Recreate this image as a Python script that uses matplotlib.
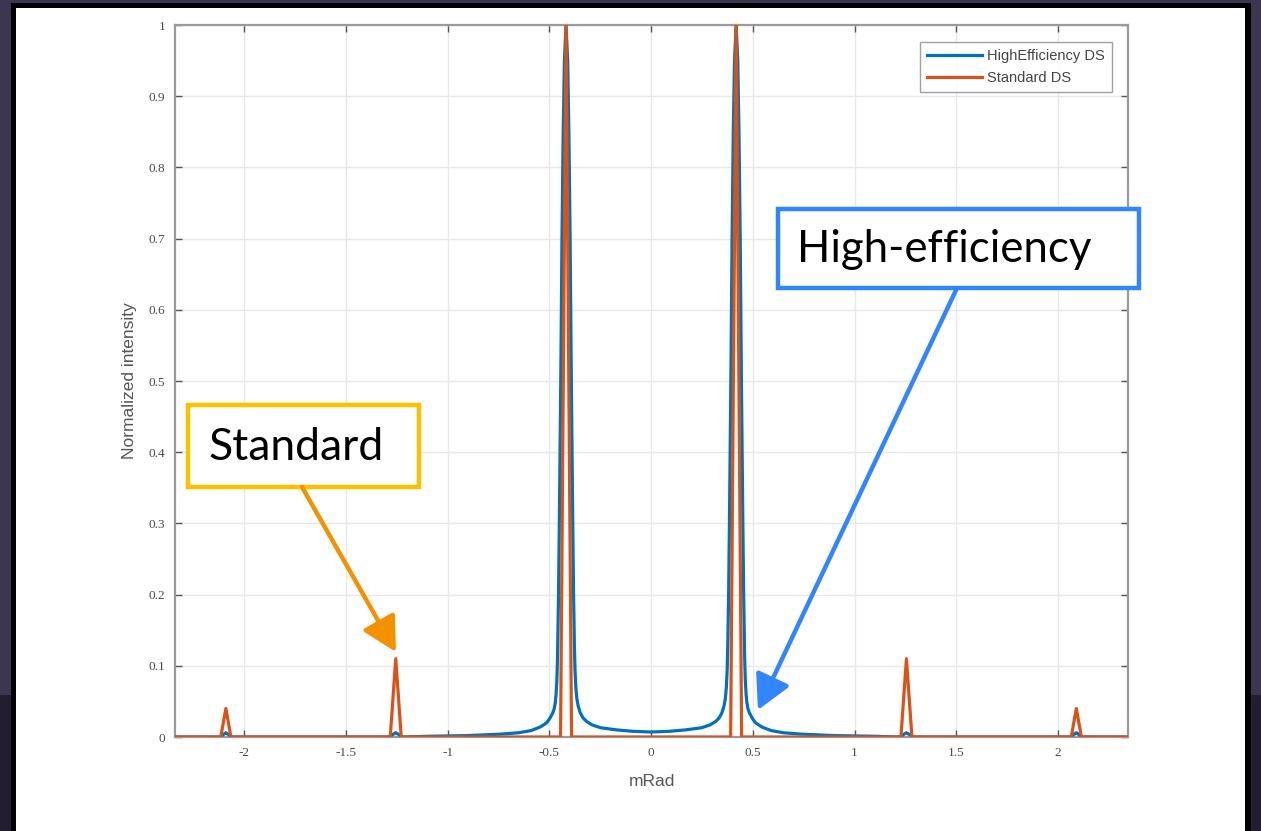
import matplotlib
matplotlib.use("Agg")
import matplotlib.pyplot as plt
from matplotlib.patches import Rectangle, FancyArrowPatch

# ---- data -------------------------------------------------------------
# Standard diffractive structure: narrow diffraction orders
std_x = [-2.34, -2.115, -2.09, -2.065, -1.282, -1.255, -1.228,
         -0.445, -0.418, -0.391,
         0.391, 0.418, 0.445,
         1.228, 1.255, 1.282, 2.065, 2.09, 2.115, 2.34]
std_y = [0.0, 0.0, 0.04, 0.0, 0.0, 0.11, 0.0,
         0.0, 1.0, 0.0,
         0.0, 1.0, 0.0,
         0.0, 0.11, 0.0, 0.0, 0.04, 0.0, 0.0]

# High-efficiency diffractive structure: two dominant orders with wide skirts
he_x = [-2.34, -2.12, -2.09, -2.06, -1.29, -1.255, -1.22, -1.1, -0.9,
        -0.74, -0.65, -0.59, -0.545, -0.513, -0.498, -0.483, -0.476,
        -0.471, -0.467, -0.463, -0.46, -0.455, -0.451, -0.444, -0.438,
        -0.432, -0.426,
        -0.418,
        -0.41, -0.404, -0.398, -0.392, -0.385, -0.381, -0.377, -0.374,
        -0.37, -0.365, -0.358, -0.348, -0.335, -0.318, -0.29, -0.248,
        -0.17, -0.09, 0.0,
        0.09, 0.17, 0.248, 0.29, 0.318, 0.335, 0.348, 0.358, 0.365,
        0.37, 0.374, 0.377, 0.381, 0.385, 0.392, 0.398, 0.404, 0.41,
        0.418,
        0.426, 0.432, 0.438, 0.444, 0.451, 0.455, 0.46, 0.463, 0.467,
        0.471, 0.476, 0.483, 0.498, 0.513, 0.545, 0.59, 0.65, 0.74,
        0.9, 1.1, 1.22, 1.255, 1.29, 2.06, 2.09, 2.12, 2.34]
he_y = [0.0, 0.0, 0.006, 0.0, 0.0, 0.006, 0.0, 0.001, 0.002,
        0.004, 0.006, 0.009, 0.014, 0.02, 0.026, 0.034, 0.04,
        0.048, 0.06, 0.08, 0.11, 0.2, 0.3, 0.5, 0.7,
        0.85, 0.95,
        1.0,
        0.95, 0.85, 0.7, 0.5, 0.3, 0.2, 0.13, 0.095,
        0.07, 0.054, 0.043, 0.034, 0.027, 0.022, 0.017, 0.013,
        0.01, 0.008, 0.007,
        0.008, 0.01, 0.013, 0.017, 0.022, 0.027, 0.034, 0.043, 0.054,
        0.07, 0.095, 0.13, 0.2, 0.3, 0.5, 0.7, 0.85, 0.95,
        1.0,
        0.95, 0.85, 0.7, 0.5, 0.3, 0.2, 0.11, 0.08, 0.06,
        0.048, 0.04, 0.034, 0.026, 0.02, 0.014, 0.009, 0.006, 0.004,
        0.002, 0.001, 0.0, 0.006, 0.0, 0.0, 0.006, 0.0, 0.0]

x_ticks = [-2, -1.5, -1, -0.5, 0, 0.5, 1, 1.5, 2]
x_tick_labels = ["-2", "-1.5", "-1", "-0.5", "0", "0.5", "1", "1.5", "2"]
y_ticks = [0, 0.1, 0.2, 0.3, 0.4, 0.5, 0.6, 0.7, 0.8, 0.9, 1.0]
y_tick_labels = ["0", "0.1", "0.2", "0.3", "0.4", "0.5", "0.6", "0.7", "0.8", "0.9", "1"]

series_names = ["HighEfficiency DS", "Standard DS"]
callout_std = "Standard"
callout_he = "High-efficiency"

# ---- figure / slide background ---------------------------------------
W, H = 1261, 831
fig = plt.figure(figsize=(W / 100, H / 100), dpi=100)
fig.patch.set_facecolor("#3d3651")


def px_rect(x0, y0, x1, y1, zorder, **kw):
    """Rectangle given in pixel coordinates measured from the top-left."""
    r = Rectangle((x0 / W, 1 - y1 / H), (x1 - x0) / W, (y1 - y0) / H,
                  transform=fig.transFigure, zorder=zorder, **kw)
    fig.patches.append(r)
    return r


px_rect(0, 695, W, H, -3, facecolor="#221e2f", edgecolor="none")
px_rect(11, 3, 1251, H + 5, -2, facecolor="#000000", edgecolor="none")
px_rect(16, 8, 1245, H + 5, -1, facecolor="#ffffff", edgecolor="none")

# ---- axes -------------------------------------------------------------
ax = fig.add_axes([175 / W, 1 - 737 / H, (1128 - 175) / W, (737 - 25) / H])
ax.set_zorder(1)
ax.set_facecolor("white")

blue = "#0072BD"
orange = "#D95319"
ax.plot(he_x, he_y, color=blue, lw=2.3, label=series_names[0],
        solid_joinstyle="round", zorder=3)
ax.plot(std_x, std_y, color=orange, lw=2.3, label=series_names[1],
        solid_joinstyle="round", zorder=4)

ax.set_xlim(-2.34, 2.344)
ax.set_ylim(0, 1)
ax.set_xticks(x_ticks)
ax.set_xticklabels(x_tick_labels)
ax.set_yticks(y_ticks)
ax.set_yticklabels(y_tick_labels)

ax.grid(True, color="#e8e8e8", lw=1.0, zorder=0)
ax.set_axisbelow(True)
for s in ax.spines.values():
    s.set_color("#9a9a9a")
    s.set_linewidth(1.6)
ax.tick_params(direction="in", length=5, width=1.0, color="#555555",
               top=True, right=True, labelsize=9.5, labelcolor="#4a4a4a",
               pad=7)
for lab in ax.get_xticklabels() + ax.get_yticklabels():
    lab.set_family("Liberation Serif")

ax.set_xlabel("mRad", fontsize=12.5, color="#555555", family="Liberation Sans",
              labelpad=11)
ax.set_ylabel("Normalized intensity", fontsize=12.5, color="#555555",
              family="Liberation Sans", labelpad=8)

leg = ax.legend(loc="upper right", bbox_to_anchor=(0.983, 0.976),
                borderaxespad=0.0,
                prop={"family": "Liberation Sans", "size": 10.5},
                frameon=True, fancybox=False, handlelength=3.8,
                borderpad=0.45, labelspacing=0.6, handletextpad=0.35)
leg.get_frame().set_edgecolor("#8a8a8a")
leg.get_frame().set_linewidth(1.0)
for t in leg.get_texts():
    t.set_color("#444444")

# ---- call-out boxes with arrows ------------------------------------------
gold = "#FFC000"
cblue = "#3385FF"
arrow_orange = "#F39200"

px_rect(188, 405, 419, 487, 5, facecolor="white", edgecolor=gold, lw=3.2)
fig.text(208 / W, 1 - 447 / H, callout_std, fontsize=32, family="Lato",
         color="black", va="center", ha="left", zorder=6)

px_rect(778, 209, 1139, 288, 5, facecolor="white", edgecolor=cblue, lw=3.2)
fig.text(797 / W, 1 - 250 / H, callout_he, fontsize=31.5, family="Lato",
         color="black", va="center", ha="left", zorder=6)


def arrow(p0, p1, color):
    a = FancyArrowPatch((p0[0] / W, 1 - p0[1] / H), (p1[0] / W, 1 - p1[1] / H),
                        transform=fig.transFigure,
                        arrowstyle="-|>,head_length=1.5,head_width=0.8",
                        mutation_scale=14, color=color, lw=3.2,
                        shrinkA=0, shrinkB=0, zorder=6)
    fig.patches.append(a)


arrow((302, 487), (396, 652), arrow_orange)
arrow((957, 288), (758, 710), cblue)

fig.savefig("out.png", dpi=100, facecolor=fig.get_facecolor())
